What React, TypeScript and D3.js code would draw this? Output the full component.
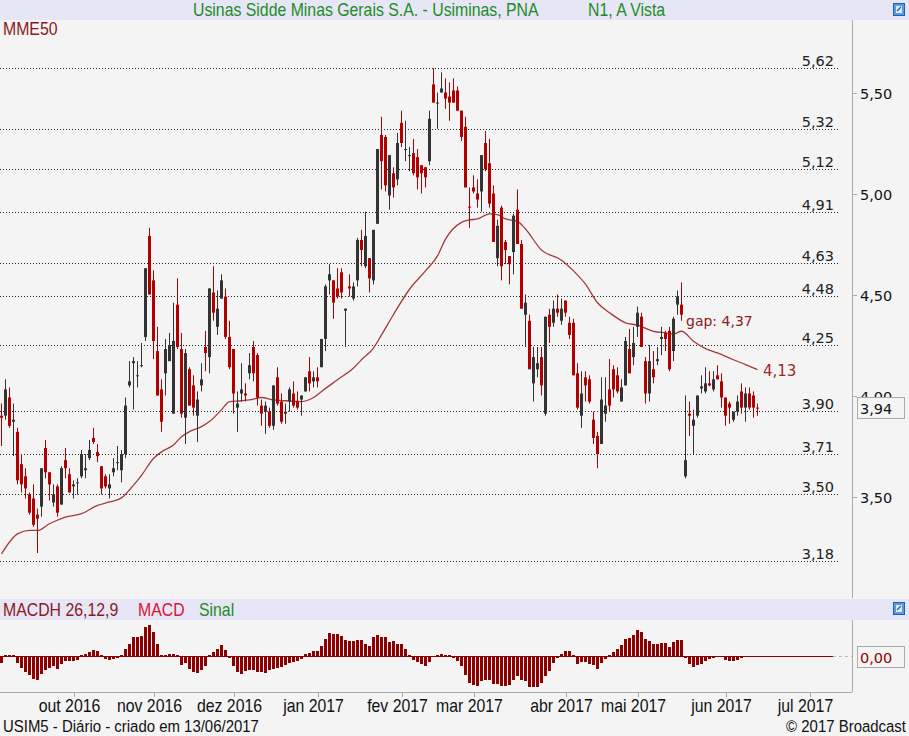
import React, { useEffect } from 'react';
import * as d3 from 'd3';

// ---------- DATA ----------
const openP = [3.90,3.90,3.99,3.87,3.82,3.66,3.60,3.51,3.49,3.41,3.45,3.74,3.62,3.47,3.55,3.46,3.68,3.61,3.55,3.565,
3.60,3.63,3.69,3.79,3.72,3.65,3.60,3.54,3.62,3.665,3.63,3.71,4.05,4.16,4.095,4.145,4.29,4.79,4.57,4.22,
4.03,4.11,4.17,3.91,4.45,4.23,3.89,4.13,4.05,3.90,4.05,4.24,4.19,4.51,4.34,4.48,4.49,4.29,4.23,3.94,
4.01,4.01,4.11,4.24,4.20,3.95,3.92,3.92,3.85,4.09,3.97,3.91,3.97,4.01,3.97,3.98,4.02,4.12,4.07,4.09,
4.14,4.28,4.57,4.57,4.53,4.61,4.42,4.54,4.48,4.57,4.77,4.64,4.68,4.57,4.85,5.29,5.28,4.99,5.10,5.07,
5.35,5.215,5.185,5.20,5.18,5.14,5.13,5.16,5.54,5.445,5.50,5.50,5.48,5.51,5.51,5.41,5.33,4.935,5.03,5.00,
5.01,5.25,5.15,5.00,4.68,4.93,4.76,4.69,4.71,4.92,4.75,4.40,4.37,4.06,4.13,4.19,3.91,4.40,4.36,4.43,
4.37,4.47,4.36,4.36,4.11,3.90,4.09,4.08,3.88,3.80,3.76,3.91,4.03,4.13,4.10,3.97,4.05,4.23,4.19,4.34,
4.39,4.17,4.01,4.13,4.17,4.28,4.31,4.32,4.22,4.45,4.45,3.60,3.91,3.85,3.90,4.035,4.02,4.06,4.03,4.10,
4.07,3.99,3.96,3.88,3.92,4.02,3.94,4.01,4.00,3.94];
const highP = [3.96,4.08,4.04,3.96,3.84,3.71,3.64,3.52,3.56,3.44,3.64,3.78,3.62,3.56,3.56,3.65,3.74,3.64,3.58,3.59,
3.73,3.71,3.78,3.84,3.76,3.65,3.61,3.61,3.69,3.75,3.73,3.99,4.17,4.19,4.17,4.26,4.63,4.83,4.62,4.34,
4.08,4.28,4.31,4.46,4.58,4.31,4.23,4.14,4.10,4.02,4.16,4.32,4.53,4.64,4.52,4.60,4.53,4.37,4.23,4.02,
4.16,4.06,4.21,4.27,4.21,3.98,3.97,3.94,4.05,4.14,4.01,3.96,4.04,4.07,4.02,4.00,4.09,4.19,4.12,4.14,
4.28,4.55,4.65,4.57,4.63,4.63,4.43,4.60,4.56,4.78,4.82,4.91,4.68,4.82,5.22,5.38,5.29,5.19,5.13,5.30,
5.41,5.36,5.23,5.27,5.22,5.14,5.13,5.41,5.62,5.50,5.60,5.57,5.55,5.57,5.53,5.41,5.38,5.03,5.09,5.07,
5.19,5.31,5.27,5.04,4.87,4.94,4.77,4.69,4.90,5.02,4.77,4.50,4.40,4.24,4.24,4.24,4.39,4.43,4.47,4.50,
4.48,4.47,4.39,4.38,4.16,4.12,4.12,4.10,3.92,3.82,4.09,4.09,4.18,4.15,4.14,4.08,4.29,4.33,4.34,4.44,
4.41,4.19,4.25,4.22,4.24,4.34,4.32,4.34,4.39,4.52,4.56,4.00,3.97,3.93,4.00,4.10,4.14,4.12,4.12,4.15,
4.11,3.99,3.97,3.92,4.00,4.06,4.04,4.04,4.02,3.96];
const lowP = [3.75,3.88,3.84,3.70,3.56,3.52,3.49,3.41,3.35,3.22,3.40,3.59,3.48,3.45,3.40,3.46,3.59,3.52,3.49,3.51,
3.59,3.59,3.68,3.76,3.67,3.51,3.54,3.49,3.60,3.63,3.57,3.69,4.04,3.93,4.04,4.14,4.27,4.50,4.18,4.00,
3.82,4.00,4.17,3.91,4.23,3.89,3.76,3.95,3.90,3.77,4.02,4.12,4.11,4.37,4.30,4.48,4.28,4.13,3.91,3.82,
3.97,3.97,4.08,4.07,3.95,3.85,3.81,3.84,3.83,3.95,3.86,3.86,3.92,3.94,3.93,3.90,4.02,4.02,4.04,4.04,
4.14,4.22,4.50,4.38,4.48,4.48,4.24,4.49,4.47,4.54,4.64,4.63,4.51,4.55,4.85,5.02,5.01,4.92,4.98,5.04,
5.23,5.16,5.11,5.09,5.02,5.00,5.03,5.14,5.45,5.32,5.50,5.42,5.36,5.45,5.41,5.26,5.03,4.83,5.00,4.93,
4.91,5.11,4.93,4.76,4.64,4.57,4.65,4.55,4.60,4.75,4.43,4.24,4.13,3.97,4.09,4.00,3.90,4.26,4.34,4.39,
4.35,4.39,4.28,4.10,3.93,3.84,3.97,3.96,3.76,3.64,3.76,3.87,3.92,3.99,4.01,3.97,4.05,4.11,4.15,4.29,
4.24,3.96,3.97,4.06,4.15,4.20,4.22,4.12,4.17,4.40,4.37,3.59,3.80,3.71,3.89,4.01,4.01,4.045,4.02,4.08,
3.94,3.85,3.86,3.87,3.90,3.91,3.87,3.93,3.89,3.90];
const closeP = [3.89,4.03,3.85,3.88,3.58,3.56,3.54,3.42,3.36,3.39,3.64,3.62,3.56,3.51,3.42,3.64,3.64,3.52,3.56,3.57,
3.71,3.64,3.73,3.77,3.70,3.54,3.55,3.56,3.64,3.67,3.71,3.95,4.07,4.17,4.10,4.15,4.63,4.50,4.27,4.00,
3.87,4.23,4.25,4.27,4.24,3.91,4.21,3.95,3.94,3.98,4.08,4.21,4.53,4.41,4.43,4.57,4.29,4.14,4.01,3.96,
4.03,4.00,4.15,4.11,3.99,3.91,3.95,3.85,4.05,3.96,3.87,3.92,4.03,3.95,3.94,4.00,4.09,4.06,4.09,4.07,
4.28,4.54,4.60,4.46,4.49,4.51,4.43,4.53,4.54,4.77,4.72,4.79,4.58,4.82,5.22,5.16,5.04,5.19,5.03,5.25,
5.25,5.22,5.19,5.10,5.08,5.10,5.08,5.37,5.45,5.45,5.52,5.47,5.45,5.45,5.41,5.28,5.03,4.93,5.01,4.97,
5.19,5.12,4.95,4.76,4.84,4.64,4.72,4.65,4.89,4.75,4.43,4.46,4.13,4.19,4.16,4.05,4.39,4.34,4.43,4.41,
4.43,4.41,4.30,4.10,3.94,4.01,4.05,3.97,3.79,3.71,3.98,3.95,3.95,4.03,4.02,4.04,4.27,4.11,4.26,4.41,
4.24,4.01,4.17,4.09,4.18,4.29,4.28,4.13,4.38,4.49,4.40,3.68,3.90,3.88,4.00,4.045,4.06,4.05,4.08,4.08,
3.99,3.90,3.94,3.92,3.97,3.94,4.01,3.94,3.94,3.935];

// MME50 line read at sample candles (candle index, value)
const mmeIdx = [0,4,7,9,12,16,20,24,27,30,33,35,38,40,43,45,47,50,52,55,57,60,62,65,68,71,75,78,80,84,88,90,93,95,98,102,106,109,111,115,117,119,122,124,126,129,131,135,140,143,146,149,152,156,159,163,166,168,170,173,176,179,183,186,189];
const mmeVal = [3.216,3.315,3.332,3.332,3.365,3.398,3.415,3.456,3.473,3.493,3.556,3.605,3.688,3.721,3.755,3.796,3.821,3.846,3.871,3.929,3.970,3.974,3.978,3.990,3.978,3.974,3.970,3.990,4.020,4.078,4.136,4.177,4.235,4.300,4.401,4.526,4.617,4.691,4.774,4.857,4.869,4.874,4.899,4.895,4.874,4.862,4.824,4.720,4.670,4.617,4.551,4.459,4.410,4.360,4.348,4.318,4.310,4.305,4.318,4.269,4.232,4.211,4.177,4.153,4.128];

const macdHist = [-0.028,0.004,0.004,0.004,-0.028,-0.048,-0.064,-0.076,-0.092,-0.096,-0.072,-0.056,-0.048,-0.040,-0.052,-0.032,-0.020,-0.020,-0.020,-0.016,
0.004,0.008,0.016,0.024,0.020,0.004,-0.012,-0.016,-0.012,-0.008,0.004,0.028,0.048,0.076,0.076,0.080,0.116,0.124,0.096,0.048,
0.004,0.004,0.008,0.008,0.004,-0.036,-0.028,-0.052,-0.064,-0.068,-0.056,-0.040,0.004,0.016,0.028,0.044,0.024,-0.008,-0.040,-0.064,
-0.072,-0.060,-0.056,-0.056,-0.064,-0.064,-0.068,-0.056,-0.052,-0.048,-0.044,-0.036,-0.028,-0.024,-0.020,-0.012,0.008,0.012,0.020,0.020,
0.040,0.068,0.092,0.088,0.088,0.080,0.064,0.060,0.060,0.064,0.064,0.048,0.040,0.076,0.084,0.076,0.076,0.056,0.060,0.048,
0.048,0.028,0.004,-0.016,-0.024,-0.032,-0.040,-0.024,-0.004,0.004,0.008,0.004,0.004,-0.008,-0.020,-0.040,-0.076,-0.108,-0.116,-0.120,
-0.100,-0.096,-0.096,-0.112,-0.112,-0.120,-0.120,-0.116,-0.096,-0.080,-0.096,-0.100,-0.124,-0.124,-0.124,-0.108,-0.080,-0.060,-0.028,-0.008,
0.008,0.020,0.020,0.004,-0.032,-0.024,-0.024,-0.032,-0.036,-0.052,-0.028,-0.012,0.004,0.016,0.028,0.044,0.068,0.072,0.084,0.104,
0.096,0.068,0.060,0.048,0.048,0.052,0.052,0.036,0.056,0.064,0.064,-0.008,-0.032,-0.044,-0.036,-0.032,-0.020,-0.012,-0.008,0,
-0.004,-0.016,-0.020,-0.020,-0.016,-0.008,0,0,0,0];

const levelValues = [5.62, 5.32, 5.12, 4.91, 4.658, 4.495, 4.25, 3.921, 3.71, 3.51, 3.18];
const levelLabels = ['5,62','5,32','5,12','4,91','4,63','4,48','4,25','3,90','3,71','3,50','3,18'];
const axisTicks = [3.5, 4.0, 4.5, 5.0, 5.5];
const monthLabels = ['out 2016','nov 2016','dez 2016','jan 2017','fev 2017','mar 2017','abr 2017','mai 2017','jun 2017','jul 2017'];
const monthStartIdx = [18, 38, 58, 79, 100, 118, 141, 159, 181, 202];
const lastPrice = 3.94;
const gapLevel = 4.37;
const mmeLast = 4.13;
const titleMain = 'Usinas Sidde Minas Gerais S.A. - Usiminas, PNA';
const titleSub = 'N1, A Vista';

// ---------- STYLE ----------
const SANS = "'Liberation Sans', Arial, sans-serif";
const NUM = "'DejaVu Sans', Verdana, sans-serif";
const BG = '#f4f4f4';
const BAR_BG = '#e6e6f6';
const RED = '#b00000';
const DARK = '#333333';
const MME = '#a33a3a';
const fmt = (v: number) => v.toFixed(2).replace('.', ',');

// narrow-looking text: taller glyphs squeezed horizontally
function NText({ x, y, anchor = 'start', size = 18, fill = '#111', children }:
  { x: number; y: number; anchor?: string; size?: number; fill?: string; children: React.ReactNode }) {
  return (
    <text transform={`translate(${x},${y}) scale(0.88,1)`} textAnchor={anchor as any}
      fontFamily={SANS} fontSize={size} fill={fill}>{children}</text>
  );
}

function Icon({ x, y }: { x: number; y: number }) {
  return (
    <g>
      <rect x={x + 0.5} y={y + 0.5} width={11} height={12} fill="#5b9be0" stroke="#1f5fa8" />
      <rect x={x + 3} y={y + 3} width={6} height={7} fill="#ffffff" opacity={0.8} />
      <path d={`M${x + 4},${y + 8} L${x + 8},${y + 4}`} stroke="#1f5fa8" strokeWidth={1.2} />
    </g>
  );
}

export default function App() {
  useEffect(() => {
    document.body.style.margin = '0';
  }, []);

  const W = 909, H = 736;
  const plotRight = 852;
  const x = d3.scaleLinear().domain([0, 1]).range([1.5, 5.5]);
  const y = d3.scaleLinear().domain([3.5, 5.5]).range([496.5, 92.5]);
  const ym = d3.scaleLinear().domain([-0.144, 0.144]).range([692, 620]);

  const mmePts: [number, number][] = mmeIdx.map((d, k) => [x(d), y(mmeVal[k])]);
  const mmePath = d3.line().curve(d3.curveMonotoneX)(mmePts) || '';

  const n = closeP.length;
  const zeroY = Math.round(ym(0)) + 0.5;
  const boxTop = Math.round(y(lastPrice)) - 10.5;

  return (
    <svg width={W} height={H} style={{ display: 'block', background: BG }} xmlns="http://www.w3.org/2000/svg">
      <defs>
        <clipPath id="above-box"><rect x={855} y={20} width={54} height={boxTop - 20} /></clipPath>
      </defs>
      <rect x={0} y={0} width={W} height={H} fill={BG} />
      {/* title bar */}
      <rect x={0} y={0} width={W} height={20} fill={BAR_BG} />
      <NText x={193} y={16} fill="#1e8c1e">{titleMain}</NText>
      <NText x={588} y={16} fill="#1e8c1e">{titleSub}</NText>
      <Icon x={893} y={3} />
      <NText x={3} y={35} fill="#8b1a1a">MME50</NText>

      {/* right axis line */}
      <line x1={plotRight + 0.5} x2={plotRight + 0.5} y1={20} y2={598} stroke="#aaaaaa" />

      {/* levels */}
      {levelValues.map((v, k) => {
        const yy = Math.round(y(v)) + 0.5;
        return (
          <g key={'lv' + k}>
            <line x1={0} x2={840} y1={yy} y2={yy} stroke="#222" strokeDasharray="1,2" />
            <text x={834} y={yy - 3} textAnchor="end" fontFamily={NUM} fontSize={14.5} fill="#222">{levelLabels[k]}</text>
          </g>
        );
      })}

      {/* MME50 */}
      <path d={mmePath} fill="none" stroke={MME} strokeWidth={1.3} />

      {/* candles */}
      {d3.range(n).map((i) => {
        const o = openP[i], c = closeP[i], h = highP[i], l = lowP[i];
        const up = c >= o;
        const col = up ? DARK : RED;
        const cx = x(i);
        const top = y(Math.max(o, c)), bot = y(Math.min(o, c));
        return (
          <g key={'c' + i}>
            <line x1={cx} x2={cx} y1={y(h)} y2={y(l)} stroke={col} strokeWidth={1} />
            <rect x={cx - 1.5} y={top} width={3} height={Math.max(1, bot - top)} fill={col} />
          </g>
        );
      })}

      <text x={686} y={y(gapLevel) + 5} fontFamily={NUM} fontSize={14} fill="#8b2020">{'gap: ' + fmt(gapLevel)}</text>
      <text x={763} y={y(mmeLast) + 7} fontFamily={NUM} fontSize={15} fill="#a02828">{fmt(mmeLast)}</text>

      {/* right axis */}
      {axisTicks.map((t) => (
        <g key={'t' + t}>
          <line x1={plotRight} x2={plotRight + 5} y1={Math.round(y(t)) + 0.5} y2={Math.round(y(t)) + 0.5} stroke="#aaa" />
          <text x={860} y={y(t) + 6} fontFamily={NUM} fontSize={14.5} fill="#111"
            clipPath={Math.abs(t - lastPrice) < 0.1 ? 'url(#above-box)' : undefined}>{fmt(t)}</text>
        </g>
      ))}
      <rect x={857.5} y={boxTop} width={47} height={21} fill={BG} stroke="#aaa" />
      <text x={860} y={y(lastPrice) + 6} fontFamily={NUM} fontSize={14.5} fill="#111">{fmt(lastPrice)}</text>

      {/* MACD header */}
      <rect x={0} y={599} width={W} height={21} fill={BAR_BG} />
      <NText x={3} y={616} fill="#8b1a1a">MACDH 26,12,9</NText>
      <NText x={138} y={616} fill="#dc1430">MACD</NText>
      <NText x={199} y={616} fill="#1e8c1e">Sinal</NText>
      <Icon x={893} y={602} />

      {/* MACD panel */}
      <line x1={plotRight + 0.5} x2={plotRight + 0.5} y1={620} y2={692} stroke="#aaaaaa" />
      <line x1={0} x2={plotRight} y1={692.5} y2={692.5} stroke="#aaaaaa" />
      {macdHist.map((v, i) => {
        if (v === 0) return null;
        const y0 = ym(0), y1 = ym(v);
        return <rect key={'m' + i} x={x(i) - 1.5} y={Math.min(y0, y1)} width={3} height={Math.abs(y1 - y0)} fill="#8b0000" />;
      })}
      <line x1={0} x2={833} y1={zeroY} y2={zeroY} stroke="#8b0000" />
      <line x1={833} x2={plotRight} y1={zeroY} y2={zeroY} stroke="#bbb" strokeDasharray="3,3" />
      <rect x={857.5} y={646.5} width={47} height={21} fill={BG} stroke="#aaa" />
      <text x={860} y={663} fontFamily={NUM} fontSize={14.5} fill="#8b0000">0,00</text>

      {/* time axis */}
      {monthStartIdx.map((m, k) => {
        const tx = Math.round(x(m)) + 0.5;
        return (
          <g key={'mo' + k}>
            <line x1={tx} x2={tx} y1={692} y2={697} stroke="#aaa" />
            <NText x={tx - 5} y={712} anchor="middle">{monthLabels[k]}</NText>
          </g>
        );
      })}

      {/* footer */}
      <NText x={3} y={732} size={17}>USIM5 - Diário - criado em 13/06/2017</NText>
      <NText x={906} y={732} size={17} anchor="end">© 2017 Broadcast</NText>
    </svg>
  );
}
